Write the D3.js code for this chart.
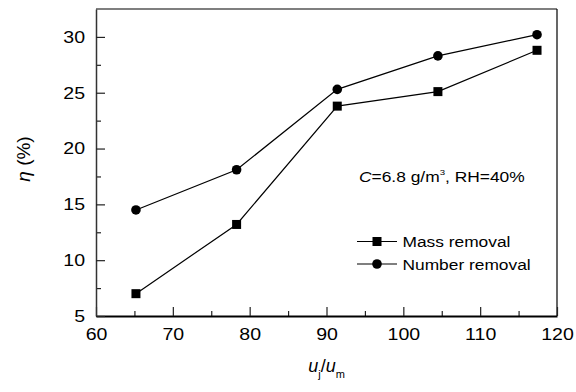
<!DOCTYPE html>
<html><head><meta charset="utf-8">
<script src="https://cdn.jsdelivr.net/npm/d3@7"></script>
<style>
body{margin:0;background:#fff;}
svg text{font-family:"Liberation Sans",Arial,sans-serif;fill:#000;}
.wc{transform-box:fill-box;transform-origin:center;transform:scaleX(1.15);}
.wr{transform-box:fill-box;transform-origin:right center;transform:scaleX(1.15);}
.wl{transform-box:fill-box;transform-origin:left center;}
</style></head>
<body>
<script>
const uRatio = [65.2, 78.3, 91.4, 104.5, 117.4];
const massRemoval = [7.0, 13.2, 23.8, 25.1, 28.8];
const numberRemoval = [14.5, 18.1, 25.3, 28.3, 30.2];
const xTicks = [60, 70, 80, 90, 100, 110, 120];
const yTicks = [5, 10, 15, 20, 25, 30];
const xMinor = [65, 75, 85, 95, 105, 115];
const yMinor = [7.5, 12.5, 17.5, 22.5, 27.5];
const seriesNames = ["Mass removal", "Number removal"];

const W = 576, H = 392;
const m = {l: 96, r: 19, t: 9, b: 76};
const svg = d3.select("body").append("svg").attr("width", W).attr("height", H);
const x = d3.scaleLinear().domain([60, 120]).range([m.l, W - m.r]);
const y = d3.scaleLinear().domain([5, 32.5]).range([H - m.b, m.t]);

// frame top/right
svg.append("line").attr("x1", x(60)).attr("x2", x(120)).attr("y1", y(32.5)).attr("y2", y(32.5)).attr("stroke", "#000").attr("stroke-width", 1.2);
svg.append("line").attr("x1", x(120)).attr("x2", x(120)).attr("y1", y(32.5)).attr("y2", y(5)).attr("stroke", "#000").attr("stroke-width", 1.2);

// minor ticks
svg.append("g").attr("transform", `translate(0,${y(5)})`)
  .call(d3.axisBottom(x).tickValues(xMinor).tickSize(-5).tickFormat(""))
  .call(g => g.select(".domain").remove())
  .call(g => g.selectAll("line").attr("stroke", "#222").attr("stroke-width", 1.2));
svg.append("g").attr("transform", `translate(${x(60)},0)`)
  .call(d3.axisLeft(y).tickValues(yMinor).tickSize(-5).tickFormat(""))
  .call(g => g.select(".domain").remove())
  .call(g => g.selectAll("line").attr("stroke", "#222").attr("stroke-width", 1.2));

// major axes
const gx = svg.append("g").attr("transform", `translate(0,${y(5)})`)
  .call(d3.axisBottom(x).tickValues(xTicks).tickSize(-9).tickPadding(12).tickSizeOuter(0));
gx.select(".domain").attr("stroke", "#000").attr("stroke-width", 2);
gx.selectAll("line").attr("stroke", "#222").attr("stroke-width", 1.2);
gx.selectAll("text").attr("class", "wc").style("font-size", "17px");

const gy = svg.append("g").attr("transform", `translate(${x(60)},0)`)
  .call(d3.axisLeft(y).tickValues(yTicks).tickSize(-9).tickPadding(11).tickSizeOuter(0));
gy.select(".domain").attr("stroke", "#333").attr("stroke-width", 1.5);
gy.selectAll("line").attr("stroke", "#222").attr("stroke-width", 1.2);
gy.selectAll("text").attr("class", "wr").style("font-size", "17px");

// lines
const line = d3.line().x((d, i) => x(uRatio[i])).y(d => y(d));
svg.append("path").datum(massRemoval).attr("d", line).attr("fill", "none").attr("stroke", "#000").attr("stroke-width", 1.2);
svg.append("path").datum(numberRemoval).attr("d", line).attr("fill", "none").attr("stroke", "#000").attr("stroke-width", 1.2);

const sq = 9;
svg.append("g").selectAll("rect").data(massRemoval).join("rect")
  .attr("x", (d, i) => x(uRatio[i]) - sq / 2).attr("y", d => y(d) - sq / 2)
  .attr("width", sq).attr("height", sq).attr("fill", "#000");
svg.append("g").selectAll("circle").data(numberRemoval).join("circle")
  .attr("cx", (d, i) => x(uRatio[i])).attr("cy", d => y(d)).attr("r", 4.8).attr("fill", "#000");

// legend
const legY = [241.5, 264];
seriesNames.forEach((name, k) => {
  const g = svg.append("g");
  g.append("line").attr("x1", 357).attr("x2", 397).attr("y1", legY[k]).attr("y2", legY[k]).attr("stroke", "#000").attr("stroke-width", 1.2);
  if (k === 0) g.append("rect").attr("x", 377 - sq / 2).attr("y", legY[k] - sq / 2).attr("width", sq).attr("height", sq).attr("fill", "#000");
  else g.append("circle").attr("cx", 377).attr("cy", legY[k]).attr("r", 4.8).attr("fill", "#000");
  g.append("text").attr("class", "wl").attr("x", 402.5).attr("y", legY[k]).attr("dy", "0.36em")
    .style("font-size", "15.5px").style("transform", "scaleX(1.12)").text(name);
});

// annotation
const ann = svg.append("text").attr("class", "wl").attr("x", 359).attr("y", 182)
  .style("font-size", "14.5px").style("transform", "scaleX(1.2)");
ann.append("tspan").attr("font-style", "italic").text("C");
ann.append("tspan").text("=6.8 g/m");
ann.append("tspan").attr("dy", -7).style("font-size", "8px").text("3");
ann.append("tspan").attr("dy", 7).text(", RH=40%");

// y title
const yt = svg.append("text").attr("transform", `translate(30,159) rotate(-90)`)
  .attr("text-anchor", "middle").style("font-size", "19px");
yt.append("tspan").attr("font-style", "italic").text("η");
yt.append("tspan").text(" (%)");

// x title
const xt = svg.append("text").attr("x", (x(60) + x(120)) / 2).attr("y", 372).attr("text-anchor", "middle").style("font-size", "18px");
xt.append("tspan").attr("font-style", "italic").text("u");
xt.append("tspan").attr("dy", 6).style("font-size", "11px").text("j");
xt.append("tspan").attr("dy", -6).text("/");
xt.append("tspan").attr("font-style", "italic").text("u");
xt.append("tspan").attr("dy", 6).style("font-size", "11px").text("m");
</script>
</body></html>
